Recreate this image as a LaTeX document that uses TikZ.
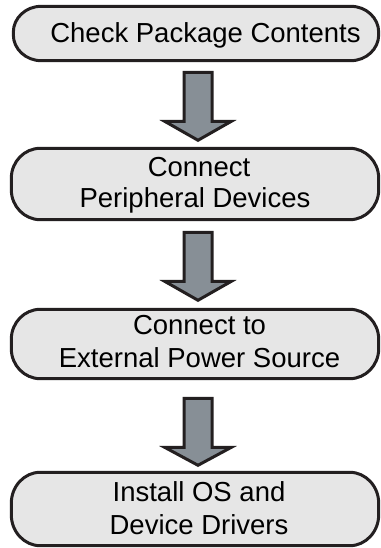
\documentclass[tikz,border=0pt]{standalone}
\usepackage{fontspec}
\usetikzlibrary{calc}
\setmainfont{Liberation Sans}
\definecolor{boxfill}{RGB}{230,230,230}
\definecolor{arrowfill}{RGB}{135,143,150}
\definecolor{inkline}{RGB}{35,31,32}
\tikzset{
  boxframe/.style={inner sep=0pt},
  boxline/.style={draw=inkline, fill=boxfill, line width=3pt},
  steptext/.style={anchor=base, inner sep=0pt, font=\fontsize{27.5}{33}\selectfont, text=black},
  blockarr/.style={draw=inkline, fill=arrowfill, line width=3pt, line join=miter}
}
% #1 node name, #2 x radius, #3 y radius
\newcommand\ovalframe[3]{%
  \draw[boxline] ($(#1.north west)+(#2,0)$) -- ($(#1.north east)+(-#2,0)$)
    arc[start angle=90, end angle=0, x radius=#2, y radius=#3]
    -- ($(#1.south east)+(0,#3)$)
    arc[start angle=0, end angle=-90, x radius=#2, y radius=#3]
    -- ($(#1.south west)+(#2,0)$)
    arc[start angle=270, end angle=180, x radius=#2, y radius=#3]
    -- ($(#1.north west)+(0,-#3)$)
    arc[start angle=180, end angle=90, x radius=#2, y radius=#3] -- cycle;}
% #1 shaft top Y, #2 head top Y, #3 tip Y
\newcommand\downblock[3]{%
  \draw[blockarr] (184,#1) -- (212,#1) -- (212,#2) -- (231,#2) -- (198,#3) -- (165,#2) -- (184,#2) -- cycle;}
\begin{document}
\begin{tikzpicture}[x=1pt,y=1pt]
\useasboundingbox (0,0) rectangle (380,548);
\node[boxframe, minimum width=365pt, minimum height=54pt] (b1) at (196,514.5) {};
\node[boxframe, minimum width=367pt, minimum height=71pt] (b2) at (195,364) {};
\node[boxframe, minimum width=367pt, minimum height=69pt] (b3) at (195,204) {};
\node[boxframe, minimum width=367pt, minimum height=73pt] (b4) at (195,39) {};
\ovalframe{b1}{28pt}{26pt}
\ovalframe{b2}{29pt}{30pt}
\ovalframe{b3}{29pt}{30pt}
\ovalframe{b4}{29pt}{31pt}
\node[steptext] (t1) at (205.5,505) {Check Package Contents};
\node[steptext] (t2a) at (199,371.5) {Connect};
\node[steptext] (t2b) at (195,340) {Peripheral Devices};
\node[steptext] (t3a) at (199.5,213) {Connect to};
\node[steptext] (t3b) at (199.5,180) {External Power Source};
\node[steptext] (t4a) at (199,46) {Install OS and};
\node[steptext] (t4b) at (199,13) {Device Drivers};
\downblock{475.5}{426.5}{407.7}
\downblock{315.5}{266.5}{247.7}
\downblock{149.5}{100.5}{82.7}
\end{tikzpicture}
\end{document}
